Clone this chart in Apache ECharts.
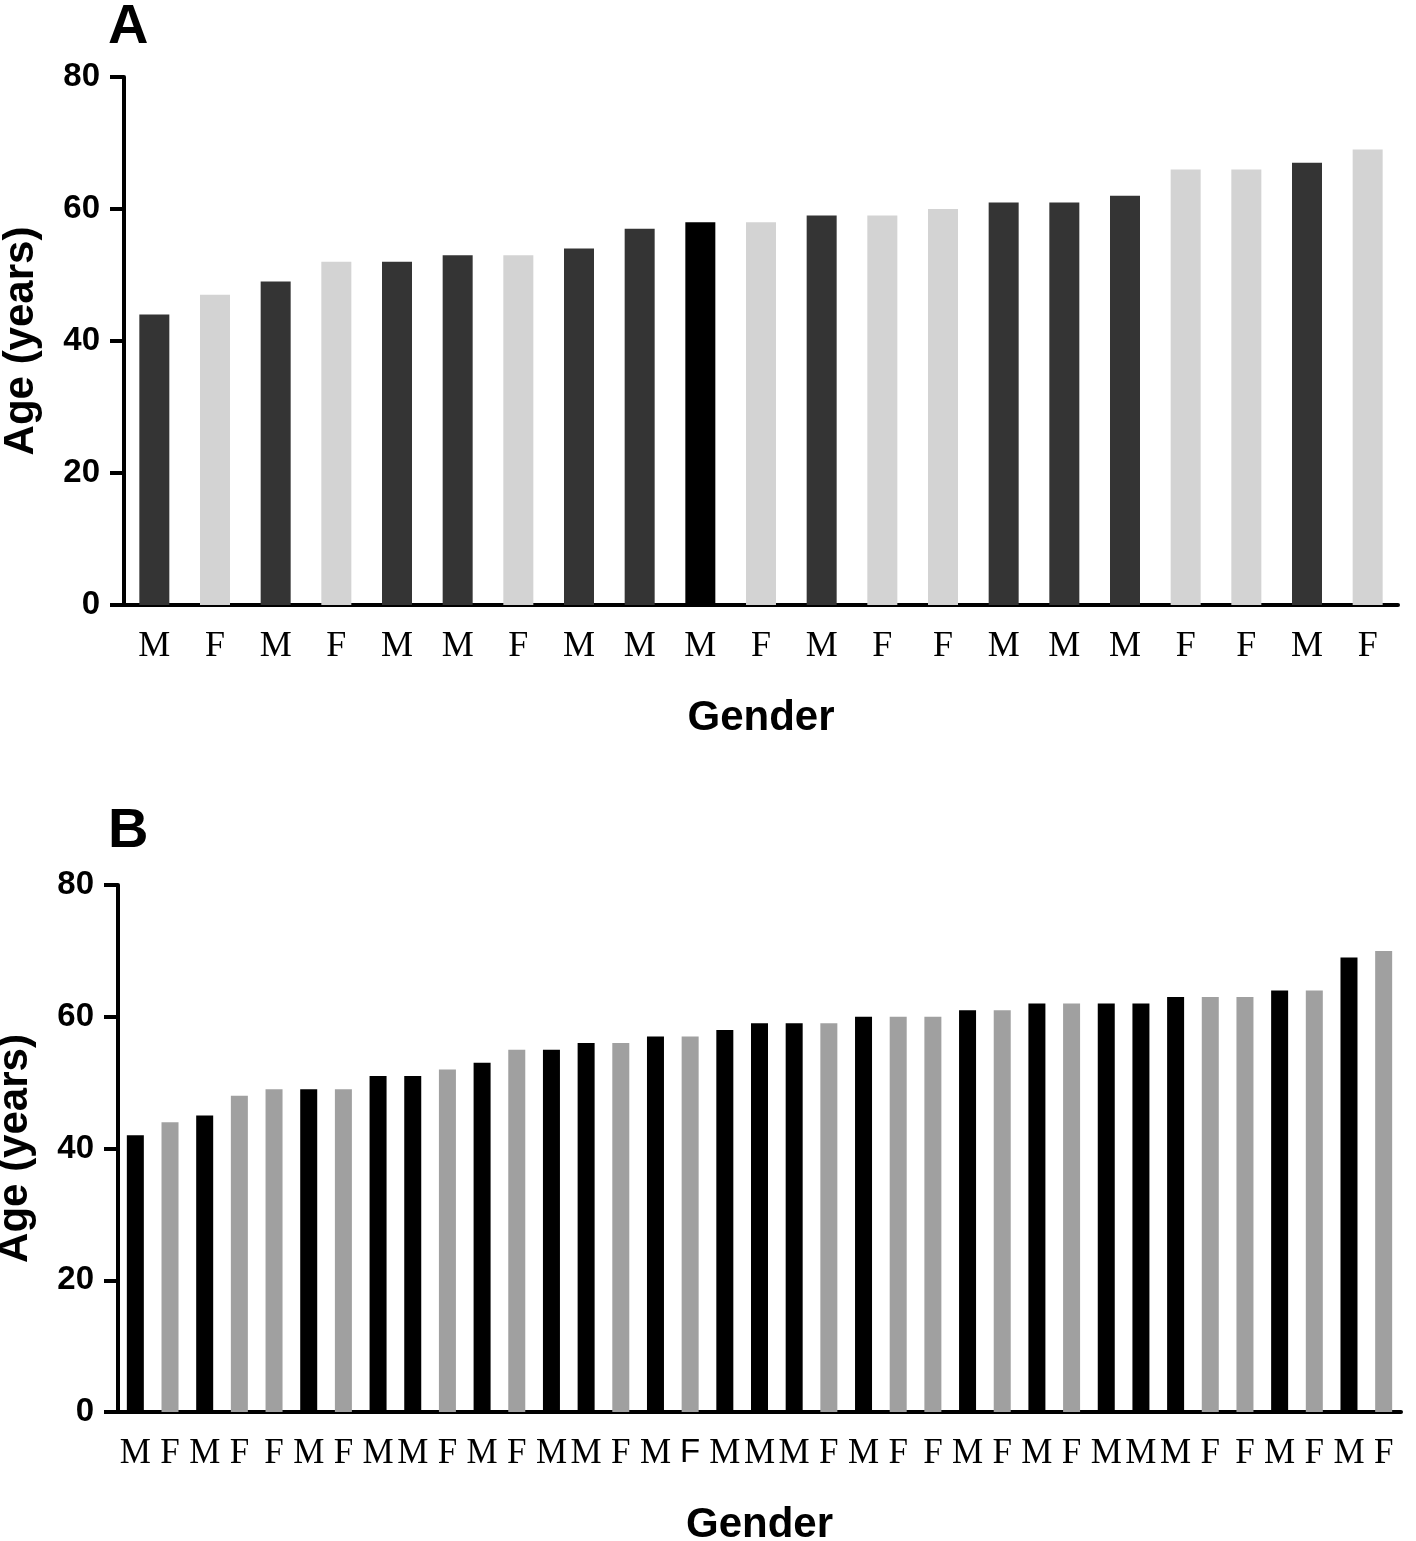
<!DOCTYPE html>
<html>
<head>
<meta charset="utf-8">
<script src="https://cdn.jsdelivr.net/npm/echarts@6/dist/echarts.min.js"></script>
<style>
	html, body { margin: 0; padding: 0; background: #fff; }
	#chart { width: 1416px; height: 1541px; }
</style>
</head>
<body>
<div id="chart"></div>
<script>
// panel A
var genderA = ['M','F','M','F','M','M','F','M','M','M','F','M','F','F','M','M','M','F','F','M','F'];
var ageA = [44, 47, 49, 52, 52, 53, 53, 54, 57, 58, 58, 59, 59, 60, 61, 61, 62, 66, 66, 67, 69];
var blackBarA = 9; // the one black bar in A

// panel B
var genderB = ['M','F','M','F','F','M','F','M','M','F','M','F','M','M','F','M','F','M','M','M',
	'F','M','F','F','M','F','M','F','M','M','M','F','F','M','F','M','F'];
var ageB = [42, 44, 45, 48, 49, 49, 49, 51, 51, 52, 53, 55, 55, 56, 56, 57, 57, 58, 59, 59,
	59, 60, 60, 60, 61, 61, 62, 62, 62, 62, 63, 63, 63, 64, 64, 69, 70];
var sansLabelB = 16; // this F is printed in a sans font

var yTicks = [0, 20, 40, 60, 80];

var sans = '"Liberation Sans", Arial, sans-serif';
var serif = '"Liberation Serif", "Times New Roman", serif';

function barData(values, genders, colorM, colorF, special, specialColor) {
	var out = [];
	for (var i = 0; i < values.length; i++) {
		var c = genders[i] === 'M' ? colorM : colorF;
		if (i === special) c = specialColor;
		out.push({ value: values[i], itemStyle: { color: c } });
	}
	return out;
}

function xAxisFor(idx, cats, fontSize, sansIndex) {
	return {
		type: 'category',
		gridIndex: idx,
		data: cats,
		name: 'Gender',
		nameLocation: 'middle',
		nameGap: 92,
		nameTextStyle: { fontFamily: sans, fontWeight: 'bold', fontSize: 42, color: '#000' },
		axisLine: { lineStyle: { color: '#000', width: 4 } },
		axisTick: { alignWithLabel: true, length: 14, lineStyle: { color: '#000', width: 4 } },
		axisLabel: {
			interval: 0,
			margin: 24,
			fontFamily: serif,
			fontSize: fontSize,
			color: '#000',
			formatter: function (v, i) {
				return i === sansIndex ? '{s|' + v + '}' : v;
			},
			rich: { s: { fontFamily: sans, fontSize: fontSize - 2, color: '#000' } }
		}
	};
}

function yAxisFor(idx) {
	return {
		type: 'value',
		gridIndex: idx,
		min: yTicks[0],
		max: yTicks[yTicks.length - 1],
		interval: 20,
		name: 'Age (years)',
		nameLocation: 'middle',
		nameGap: 82,
		nameTextStyle: { fontFamily: sans, fontWeight: 'bold', fontSize: 42, color: '#000' },
		splitLine: { show: false },
		axisLine: { show: true, lineStyle: { color: '#000', width: 4 } },
		axisTick: { show: true, length: 14, lineStyle: { color: '#000', width: 4 } },
		axisLabel: { margin: 24, fontFamily: sans, fontWeight: 'bold', fontSize: 33, color: '#000' }
	};
}

var chartObj = echarts.init(document.getElementById('chart'));
var option = {
	backgroundColor: '#fff',
	animation: false,
	grid: [
		{ left: 124, right: 18, top: 77, bottom: 936, outerBoundsMode: 'none', containLabel: false },
		{ left: 118, right: 15, top: 885, bottom: 129, outerBoundsMode: 'none', containLabel: false }
	],
	xAxis: [
		xAxisFor(0, genderA, 36, -1),
		xAxisFor(1, genderB, 35, sansLabelB)
	],
	yAxis: [yAxisFor(0), yAxisFor(1)],
	graphic: [
		{ type: 'text', left: 108, top: 0, style: { text: 'A', fontFamily: sans, fontWeight: 'bold', fontSize: 56, fill: '#000' } },
		{ type: 'text', left: 108, top: 804, style: { text: 'B', fontFamily: sans, fontWeight: 'bold', fontSize: 56, fill: '#000' } }
	],
	series: [
		{
			type: 'bar',
			xAxisIndex: 0,
			yAxisIndex: 0,
			barWidth: 30,
			data: barData(ageA, genderA, '#343434', '#d3d3d3', blackBarA, '#000')
		},
		{
			type: 'bar',
			xAxisIndex: 1,
			yAxisIndex: 1,
			barWidth: 17,
			data: barData(ageB, genderB, '#000', '#a0a0a0', -1, null)
		}
	]
};
chartObj.setOption(option);
</script>
</body>
</html>
